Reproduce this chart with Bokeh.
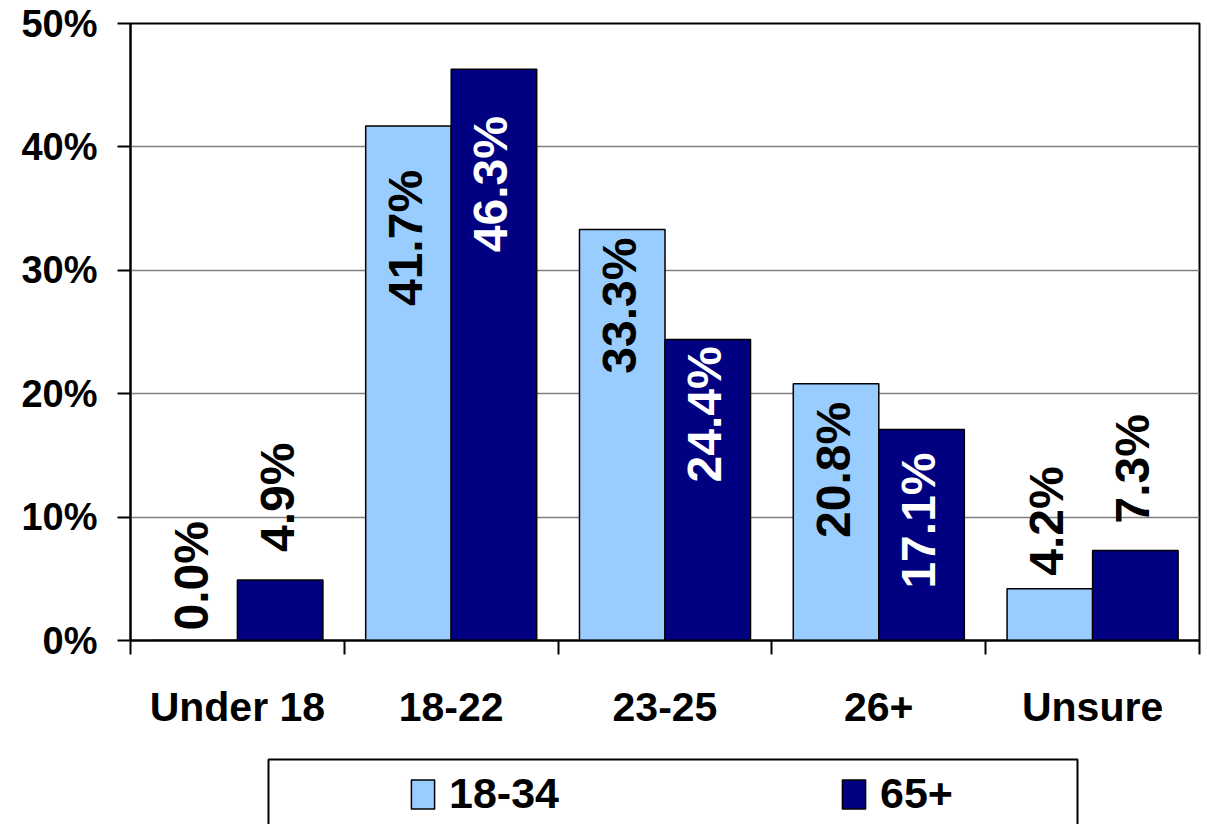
import math
from bokeh.plotting import figure
from bokeh.layouts import column
from bokeh.models import (ColumnDataSource, FixedTicker, Legend, LegendItem,
                          BoxAnnotation, Range1d)
from bokeh.embed import file_html
from bokeh.resources import INLINE
from bokeh.core.properties import value

# ---------------- data ----------------
categories = ["Under 18", "18-22", "23-25", "26+", "Unsure"]
series_names = ["18-34", "65+"]
vals_18_34 = [0.0, 41.7, 33.3, 20.8, 4.2]
vals_65 = [4.9, 46.3, 24.4, 17.1, 7.3]
y_ticks = [0, 10, 20, 30, 40, 50]
y_tick_labels = ["0%", "10%", "20%", "30%", "40%", "50%"]

# ---------------- style ----------------
LIGHT = "#99CCFF"
NAVY = "#000080"
FONT = "Liberation Sans"
BAR_W = 0.4
# pixel gap between bar end and its value label (style only)
label_gap_18_34 = [10, 44, 8, 18, 13]
label_gap_65 = [28, 47, 7, 23, 27]

W = 1207
MAIN_H = 757
LEG_H = 67
BORDER_L = 130
BORDER_R = 8

p = figure(width=W, height=MAIN_H, output_backend="svg", toolbar_location=None,
           x_range=Range1d(0, len(categories)), y_range=Range1d(0, 50),
           min_border_left=BORDER_L, min_border_right=BORDER_R, min_border_top=23,
           min_border_bottom=117)
p.background_fill_color = "white"
p.border_fill_color = "white"
p.outline_line_color = "black"
p.outline_line_width = 2

idx = list(range(len(categories)))
x_light = [i + 0.5 - BAR_W / 2 for i in idx]
x_navy = [i + 0.5 + BAR_W / 2 for i in idx]

src_light = ColumnDataSource(dict(x=x_light, top=vals_18_34))
src_navy = ColumnDataSource(dict(x=x_navy, top=vals_65))

bar_style = dict(line_color="black", line_width=1.5)
p.vbar(x="x", top="top", bottom=0, width=BAR_W, source=src_light,
       fill_color=LIGHT, **bar_style)
p.vbar(x="x", top="top", bottom=0, width=BAR_W, source=src_navy,
       fill_color=NAVY, **bar_style)


def add_labels(xs, vals, gaps, inside_color):
    ins = dict(x=[], y=[], t=[], off=[])
    outs = dict(x=[], y=[], t=[], off=[])
    for x, v, g in zip(xs, vals, gaps):
        d = ins if v >= 10 else outs
        d["x"].append(x)
        d["y"].append(v)
        d["t"].append(f"{v:.1f}%")
        d["off"].append(g if v >= 10 else -g)
    common = dict(angle=math.pi / 2, text_baseline="middle",
                  text_font=value(FONT), text_font_style="bold",
                  text_font_size="48px", x_offset=-3)
    p.text(x="x", y="y", text="t", y_offset="off", source=ColumnDataSource(ins),
           text_align="right", text_color=inside_color, **common)
    p.text(x="x", y="y", text="t", y_offset="off", source=ColumnDataSource(outs),
           text_align="left", text_color="black", **common)


add_labels(x_light, vals_18_34, label_gap_18_34, "black")
add_labels(x_navy, vals_65, label_gap_65, "white")

# ---------------- axes ----------------
p.yaxis.ticker = FixedTicker(ticks=y_ticks)
p.yaxis.major_label_overrides = {t: l for t, l in zip(y_ticks, y_tick_labels)}
p.yaxis.major_label_text_font = FONT
p.yaxis.major_label_text_font_style = "bold"
p.yaxis.major_label_text_font_size = "38px"
p.yaxis.major_label_text_color = "black"
p.yaxis.major_label_standoff = 20
p.yaxis.major_tick_out = 13
p.yaxis.major_tick_in = 0
p.yaxis.major_tick_line_width = 2
p.yaxis.major_tick_line_color = "black"
p.yaxis.minor_tick_line_color = None
p.yaxis.axis_line_width = 2
p.yaxis.axis_line_color = "black"

p.xaxis.ticker = FixedTicker(ticks=[i + 0.5 for i in idx],
                             minor_ticks=list(range(len(categories) + 1)))
p.xaxis.major_label_overrides = {i + 0.5: c for i, c in zip(idx, categories)}
p.xaxis.major_tick_line_color = None
p.xaxis.major_tick_out = 0
p.xaxis.major_tick_in = 0
p.xaxis.minor_tick_out = 14
p.xaxis.minor_tick_in = 0
p.xaxis.minor_tick_line_color = "black"
p.xaxis.minor_tick_line_width = 2
p.xaxis.major_label_text_font = FONT
p.xaxis.major_label_text_font_style = "bold"
p.xaxis.major_label_text_font_size = "41px"
p.xaxis.major_label_text_color = "black"
p.xaxis.major_label_standoff = 29
p.xaxis.axis_line_width = 2
p.xaxis.axis_line_color = "black"

p.xgrid.grid_line_color = None
p.ygrid.ticker = FixedTicker(ticks=[10, 20, 30, 40])
p.ygrid.grid_line_color = "#808080"
p.ygrid.grid_line_width = 1.5

# ---------------- legend strip ----------------
# frame matches the main chart's frame horizontally; x data units == page px
q = figure(width=W, height=LEG_H, output_backend="svg", toolbar_location=None,
           x_range=Range1d(BORDER_L, W - BORDER_R), y_range=Range1d(LEG_H, 0),
           x_axis_location=None, y_axis_location=None,
           min_border_left=BORDER_L, min_border_right=BORDER_R,
           min_border_top=0, min_border_bottom=0)
q.outline_line_color = None
q.grid.visible = False
q.background_fill_color = "white"
q.border_fill_color = "white"

q.add_layout(BoxAnnotation(left=268, right=1077, top=2, bottom=LEG_H + 20,
                           fill_color="white", fill_alpha=1.0,
                           line_color="black", line_alpha=1.0, line_width=2))

# hidden renderers that only lend their style to the legend swatches
k_light = q.vbar(x="x", top="top", width=BAR_W, source=src_light,
                 fill_color=LIGHT, visible=False, **bar_style)
k_navy = q.vbar(x="x", top="top", width=BAR_W, source=src_navy,
                fill_color=NAVY, visible=False, **bar_style)

legend = Legend(items=[LegendItem(label=series_names[0], renderers=[k_light]),
                       LegendItem(label=series_names[1], renderers=[k_navy])],
                orientation="horizontal", location=(408 - BORDER_L, 6),
                padding=0, margin=0, spacing=280,
                glyph_width=29, glyph_height=36, label_height=36,
                label_standoff=12, label_text_font=FONT,
                label_text_font_style="bold", label_text_font_size="43px",
                label_text_color="black", click_policy="none",
                inactive_fill_alpha=0,
                border_line_color=None, background_fill_alpha=0)
q.add_layout(legend)

layout = column(p, q, spacing=0)
open("out.html", "w").write(file_html(layout, INLINE))
